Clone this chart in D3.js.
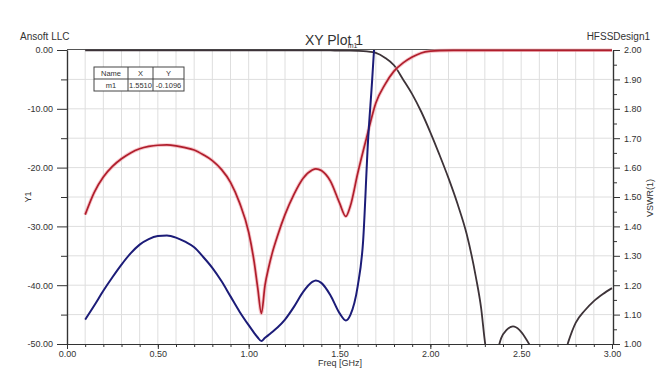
<!DOCTYPE html>
<html>
<head>
<meta charset="utf-8">
<script src="https://cdn.jsdelivr.net/npm/d3@7"></script>
<style>
  body { margin: 0; background: #fff; }
  svg text { font-family: "Liberation Sans", Arial, sans-serif; fill: #333; }
</style>
</head>
<body>
<div id="chart"></div>
<script>
/* data */
var redFreq = [0.10,0.15,0.20,0.25,0.30,0.35,0.40,0.45,0.50,0.55,0.60,0.65,0.70,0.75,0.80,0.85,0.90,0.95,1.00,1.03,1.05,1.07,1.09,1.11,1.13,1.16,1.20,1.25,1.30,1.35,1.37,1.40,1.45,1.50,1.535,1.56,1.60,1.65,1.70,1.75,1.80,1.85,1.90,1.95,2.00,2.05,2.20,2.40,2.60,2.80,3.00];
var redDb   = [-28.0,-24.2,-21.6,-19.8,-18.5,-17.5,-16.8,-16.4,-16.2,-16.15,-16.3,-16.6,-17.0,-17.8,-18.8,-20.3,-22.5,-26.0,-31.0,-36.0,-40.5,-44.8,-40.0,-37.0,-34.5,-31.5,-28.0,-24.5,-21.8,-20.4,-20.2,-20.5,-22.3,-26.0,-28.3,-26.5,-21.0,-14.8,-9.0,-5.9,-3.6,-2.2,-1.2,-0.5,-0.2,-0.1,-0.06,-0.05,-0.05,-0.05,-0.05];

var blueFreq = [0.10,0.15,0.20,0.25,0.30,0.35,0.40,0.45,0.50,0.55,0.60,0.65,0.70,0.75,0.80,0.85,0.90,0.95,1.00,1.03,1.05,1.07,1.09,1.11,1.13,1.16,1.20,1.25,1.30,1.35,1.37,1.40,1.45,1.50,1.535,1.56,1.60,1.63,1.657,1.68,1.69];
var blueVswr = [1.083,1.131,1.181,1.227,1.270,1.308,1.338,1.357,1.367,1.369,1.362,1.348,1.329,1.296,1.259,1.214,1.162,1.110,1.064,1.038,1.022,1.010,1.021,1.031,1.041,1.057,1.083,1.127,1.177,1.211,1.216,1.208,1.166,1.105,1.080,1.099,1.196,1.35,1.69,1.90,2.00];

var darkFreq = [0.10,0.50,1.00,1.30,1.45,1.551,1.60,1.65,1.70,1.75,1.80,1.85,1.90,1.95,2.00,2.05,2.10,2.15,2.20,2.25,2.28,2.30,2.32,2.37,2.39,2.42,2.455,2.49,2.52,2.56,2.65,2.72,2.76,2.80,2.85,2.90,2.95,3.00];
var darkDb   = [-0.05,-0.05,-0.05,-0.06,-0.08,-0.11,-0.15,-0.25,-0.5,-1.3,-2.6,-5.0,-7.5,-10.5,-14.0,-17.8,-21.8,-26.2,-31.3,-38.5,-44.0,-49.5,-53,-51.0,-49.0,-47.6,-47.0,-47.6,-48.8,-51.0,-60,-54,-49.6,-46.4,-44.3,-42.7,-41.5,-40.5];

var xTicks = [0, 0.5, 1.0, 1.5, 2.0, 2.5, 3.0];
var leftTicks = [-50, -40, -30, -20, -10, 0];
var rightTicks = [1.0, 1.1, 1.2, 1.3, 1.4, 1.5, 1.6, 1.7, 1.8, 1.9, 2.0];
var markerHead = ["Name", "X", "Y"];
var markerRow = ["m1", "1.5510", "-0.1096"];
var markerFreq = 1.551;

function drawPlot() {
    var W = 666, H = 372;
    var pLeft = 67, pRight = 612, pTop = 50, pBottom = 344;

    var svg = d3.select("#chart").append("svg")
        .attr("width", W).attr("height", H);

    var x = d3.scaleLinear().domain([0, 3]).range([pLeft, pRight]);
    var yL = d3.scaleLinear().domain([-50, 0]).range([pBottom, pTop]);
    var yR = d3.scaleLinear().domain([1, 2]).range([pBottom, pTop]);

    /* grid */
    var grid = svg.append("g").attr("class", "grid");
    grid.selectAll("line.v").data(d3.range(1, 30).map(function (i) { return i / 10; }))
        .enter().append("line")
        .attr("x1", function (d) { return x(d); }).attr("x2", function (d) { return x(d); })
        .attr("y1", pTop).attr("y2", pBottom)
        .attr("stroke", "#dedede").attr("stroke-width", 1);
    grid.selectAll("line.h").data(d3.range(-45, 0, 5))
        .enter().append("line")
        .attr("x1", pLeft).attr("x2", pRight)
        .attr("y1", function (d) { return yL(d); }).attr("y2", function (d) { return yL(d); })
        .attr("stroke", "#dedede").attr("stroke-width", 1);

    /* frame top */
    svg.append("line").attr("x1", pLeft).attr("x2", pRight)
        .attr("y1", pTop - 0.5).attr("y2", pTop - 0.5)
        .attr("stroke", "#555").attr("stroke-width", 1);

    /* axes */
    function fmt(d) { return d.toFixed(2); }

    var xMinor = svg.append("g").attr("transform", "translate(0," + pBottom + ")")
        .call(d3.axisBottom(x).tickValues(d3.range(0, 31).map(function (i) { return i / 10; }))
            .tickSize(3).tickSizeOuter(0).tickFormat(""));
    var xAxis = svg.append("g").attr("transform", "translate(0," + pBottom + ")")
        .call(d3.axisBottom(x).tickValues(xTicks).tickSize(5).tickPadding(2).tickSizeOuter(0).tickFormat(fmt));

    var lMinor = svg.append("g").attr("transform", "translate(" + pLeft + ",0)")
        .call(d3.axisLeft(yL).tickValues(d3.range(-45, 0, 10)).tickSize(6).tickSizeOuter(0).tickFormat(""));
    var lAxis = svg.append("g").attr("transform", "translate(" + pLeft + ",0)")
        .call(d3.axisLeft(yL).tickValues(leftTicks).tickSize(10).tickPadding(4).tickSizeOuter(0).tickFormat(fmt));

    var rMinor = svg.append("g").attr("transform", "translate(" + (pRight + 1) + ",0)")
        .call(d3.axisRight(yR).tickValues(d3.range(0, 10).map(function (i) { return 1.05 + i / 10; }))
            .tickSize(4).tickSizeOuter(0).tickFormat(""));
    var rAxis = svg.append("g").attr("transform", "translate(" + (pRight + 1) + ",0)")
        .call(d3.axisRight(yR).tickValues(rightTicks).tickSize(7).tickPadding(4).tickSizeOuter(0).tickFormat(fmt));

    [xMinor, xAxis, lMinor, lAxis, rMinor, rAxis].forEach(function (g) {
        g.selectAll("path.domain").attr("stroke", "#333").attr("stroke-width", 1.2);
        g.selectAll(".tick line").attr("stroke", "#333");
        g.selectAll("text").attr("font-size", 9).attr("fill", "#333")
            .attr("font-family", "Liberation Sans, Arial, sans-serif");
    });

    /* curves */
    svg.append("defs").append("clipPath").attr("id", "plotClip")
        .append("rect").attr("x", pLeft).attr("y", pTop - 4)
        .attr("width", pRight - pLeft + 1).attr("height", pBottom - pTop + 4);

    var plot = svg.append("g").attr("clip-path", "url(#plotClip)");

    function series(fs, vs) { return fs.map(function (f, i) { return [f, vs[i]]; }); }

    var lineL = d3.line().x(function (d) { return x(d[0]); }).y(function (d) { return yL(d[1]); })
        .curve(d3.curveMonotoneX);
    var lineR = d3.line().x(function (d) { return x(d[0]); }).y(function (d) { return yR(d[1]); })
        .curve(d3.curveMonotoneX);

    plot.append("path").datum(series(darkFreq, darkDb)).attr("d", lineL)
        .attr("fill", "none").attr("stroke", "#3d3338").attr("stroke-width", 1.8);

    plot.append("path").datum(series(redFreq, redDb)).attr("d", lineL)
        .attr("fill", "none").attr("stroke", "#f2a0a8").attr("stroke-width", 3.6).attr("stroke-opacity", 0.6);
    plot.append("path").datum(series(redFreq, redDb)).attr("d", lineL)
        .attr("fill", "none").attr("stroke", "#b01e2c").attr("stroke-width", 1.7);

    plot.append("path").datum(series(blueFreq, blueVswr)).attr("d", lineR)
        .attr("fill", "none").attr("stroke", "#1c1c78").attr("stroke-width", 2);

    /* marker label */
    svg.append("text").attr("x", x(markerFreq) - 1).attr("y", pTop - 2)
        .attr("font-size", 7).text("m1");

    /* marker table */
    var tbl = svg.append("g").attr("transform", "translate(94,67)");
    var colW = [34, 25, 31], rowH = 12;
    var colX = [0, 34, 59];
    tbl.append("rect").attr("width", 90).attr("height", 24)
        .attr("fill", "#fff").attr("stroke", "#444").attr("stroke-width", 1);
    tbl.append("line").attr("x1", 0).attr("x2", 90).attr("y1", rowH).attr("y2", rowH)
        .attr("stroke", "#444");
    [34, 59].forEach(function (cx) {
        tbl.append("line").attr("x1", cx).attr("x2", cx).attr("y1", 0).attr("y2", 24).attr("stroke", "#444");
    });
    [markerHead, markerRow].forEach(function (row, r) {
        tbl.selectAll(null).data(row).enter().append("text")
            .attr("x", function (d, i) { return colX[i] + colW[i] / 2; })
            .attr("y", r * rowH + 9)
            .attr("text-anchor", "middle").attr("font-size", 7.5)
            .text(function (d) { return d; });
    });

    /* titles and labels */
    svg.append("text").attr("x", 334).attr("y", 45).attr("text-anchor", "middle")
        .attr("font-size", 14).text("XY Plot 1");
    svg.append("text").attr("x", 20).attr("y", 40).attr("font-size", 10).text("Ansoft LLC");
    svg.append("text").attr("x", 650).attr("y", 40).attr("text-anchor", "end")
        .attr("font-size", 10).text("HFSSDesign1");
    svg.append("text").attr("transform", "translate(31,197) rotate(-90)")
        .attr("text-anchor", "middle").attr("font-size", 9).text("Y1");
    svg.append("text").attr("transform", "translate(653,198) rotate(-90)")
        .attr("text-anchor", "middle").attr("font-size", 9).text("VSWR(1)");
    svg.append("text").attr("x", 340).attr("y", 366).attr("text-anchor", "middle")
        .attr("font-size", 9).text("Freq [GHz]");
}

drawPlot();
</script>
</body>
</html>
